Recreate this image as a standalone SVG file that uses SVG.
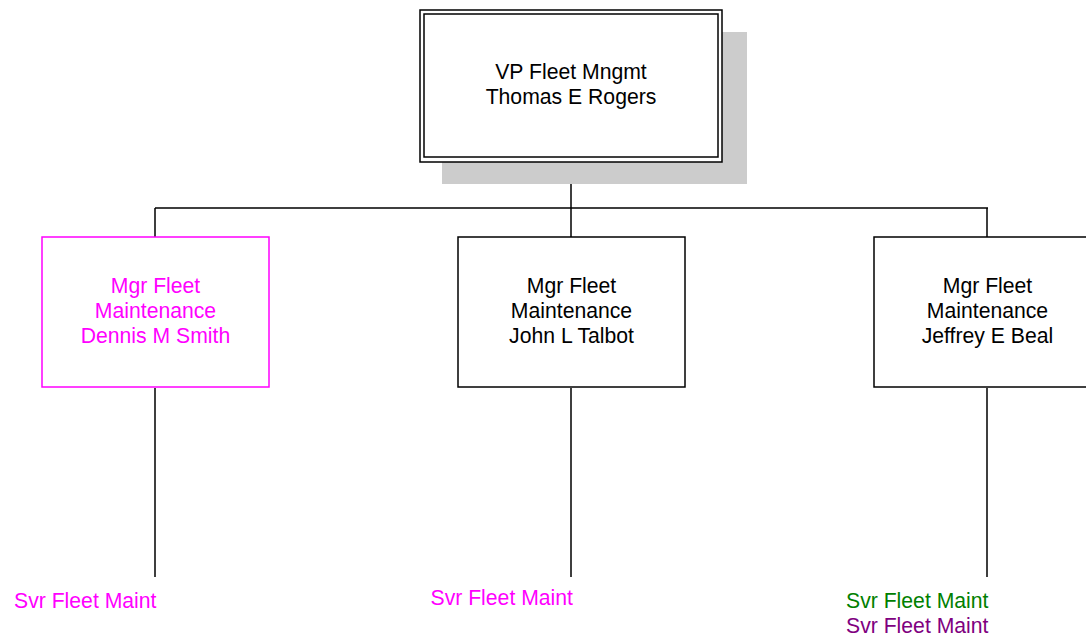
<svg xmlns="http://www.w3.org/2000/svg" width="1086" height="640" viewBox="0 0 1086 640">
<style>
text{font-family:"Liberation Sans",Arial,sans-serif;font-size:21.2px;}
.c{text-anchor:middle;}
.box{fill:#fff;stroke:#000;stroke-width:1.5;}
.ln{fill:none;stroke:#000;stroke-width:1.5;}
.mag{fill:#FF00FF;}
.grn{fill:#008000;}
.pur{fill:#800080;}
</style>
<rect width="1086" height="640" fill="#fff"/>
<g id="connectors">
<path class="ln" d="M571 162V208M155 208H988M155 208V237M571 208V237M987 208V237"/>
<path class="ln" d="M155 388V577M571 388V577M987 388V577"/>
</g>
<g id="vp">
<rect x="442" y="32" width="305" height="152" fill="#CCCCCC"/>
<rect class="box" x="420" y="10" width="302" height="152"/>
<rect class="box" x="424" y="14" width="294" height="143"/>
<text class="c" x="571" y="79">VP Fleet Mngmt</text>
<text class="c" x="571" y="104">Thomas E Rogers</text>
</g>
<g id="smith">
<rect x="42" y="237" width="227" height="150" fill="#fff" stroke="#FF00FF" stroke-width="1.5"/>
<text class="c mag" x="155.5" y="293">Mgr Fleet</text>
<text class="c mag" x="155.5" y="318">Maintenance</text>
<text class="c mag" x="155.5" y="343">Dennis M Smith</text>
</g>
<g id="talbot">
<rect class="box" x="458" y="237" width="227" height="150"/>
<text class="c" x="571.5" y="293">Mgr Fleet</text>
<text class="c" x="571.5" y="318">Maintenance</text>
<text class="c" x="571.5" y="343">John L Talbot</text>
</g>
<g id="beal">
<rect class="box" x="874" y="237" width="227" height="150"/>
<text class="c" x="987.5" y="293">Mgr Fleet</text>
<text class="c" x="987.5" y="318">Maintenance</text>
<text class="c" x="987.5" y="343">Jeffrey E Beal</text>
</g>
<g id="svr1"><text class="mag" x="14" y="608">Svr Fleet Maint</text></g>
<g id="svr2"><text class="mag" x="430.5" y="605">Svr Fleet Maint</text></g>
<g id="svr3">
<text class="grn" x="846" y="608">Svr Fleet Maint</text>
<text class="pur" x="846" y="633">Svr Fleet Maint</text>
</g>
</svg>
